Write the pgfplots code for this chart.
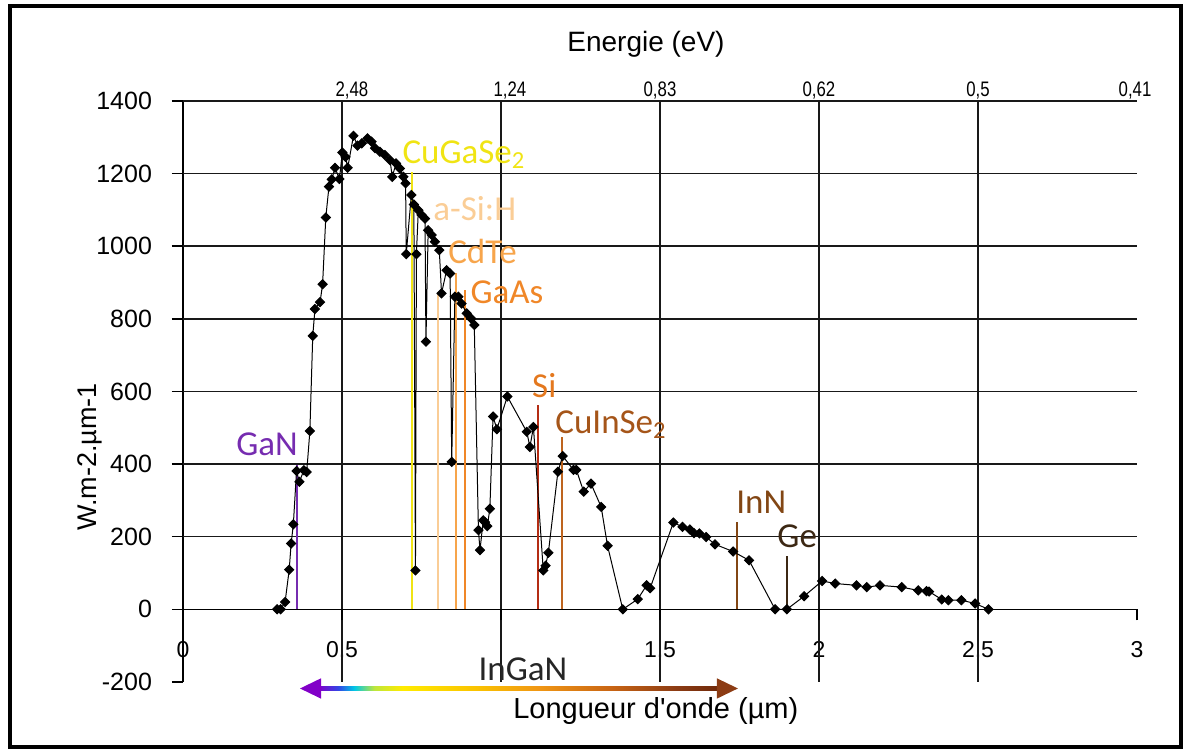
\documentclass[border=0pt]{standalone}
\usepackage{pgfplots}
\pgfplotsset{compat=1.18}
\usepackage{fontspec}
\setmainfont{Liberation Sans}
\newfontfamily\calib{Carlito}
\newfontfamily\narrow{Liberation Sans}[FakeStretch=0.8]

\definecolor{cGaN}{RGB}{118,44,176}
\definecolor{cCGS}{RGB}{240,228,20}
\definecolor{cSiH}{RGB}{250,205,150}
\definecolor{cCdTe}{RGB}{247,165,75}
\definecolor{cGaAs}{RGB}{240,135,40}
\definecolor{cSiL}{RGB}{228,120,30}
\definecolor{cSi}{RGB}{180,45,20}
\definecolor{cCIS}{RGB}{165,85,25}
\definecolor{cCISl}{RGB}{190,100,30}
\definecolor{cInN}{RGB}{130,70,20}
\definecolor{cGe}{RGB}{60,40,20}

\definecolor{g0}{RGB}{130,0,200}
\definecolor{g1}{RGB}{50,70,230}
\definecolor{g2}{RGB}{0,200,230}
\definecolor{g3}{RGB}{190,230,60}
\definecolor{g4}{RGB}{255,235,0}
\definecolor{g5}{RGB}{250,195,0}
\definecolor{g6}{RGB}{240,150,20}
\definecolor{g7}{RGB}{200,100,20}
\definecolor{g8}{RGB}{140,60,20}
\definecolor{g9}{RGB}{110,40,10}
\pgfdeclarehorizontalshading{ingan}{100bp}{color(0bp)=(g0); color(25bp)=(g0);
  color(27.5bp)=(g1); color(29.5bp)=(g2); color(32bp)=(g3); color(35.5bp)=(g4);
  color(44.5bp)=(g5); color(52.5bp)=(g6); color(61.5bp)=(g7); color(69.5bp)=(g8);
  color(75bp)=(g9); color(100bp)=(g9)}

\begin{document}
\begin{tikzpicture}
\begin{axis}[
  scale only axis, width=477pt, height=290.5pt,
  xmin=0, xmax=3, ymin=-200, ymax=1400,
  axis x line*=middle, axis y line*=left,
  axis line style={black, line width=0.7pt},
  xtick={0,0.5,...,3}, xticklabels={0,{0,5},{},{1,5},2,{2,5},3},
  ytick={-200,0,...,1400}, yticklabels={-200,0,200,400,600,800,1000,1200,1400},
  hide obscured x ticks=false, hide obscured y ticks=false,
  tick align=outside, major tick length=5.5pt,
  tick style={black, line width=0.7pt},
  extra x ticks={0.5,1,1.5,2,2.5}, extra x tick labels={},
  extra x tick style={grid=major},
  extra y ticks={200,400,...,1400}, extra y tick labels={},
  extra y tick style={grid=major},
  grid style={black!90, line width=0.8pt},
  x tick label style={font=\fontsize{11.5}{12}\selectfont, yshift=-7pt},
  y tick label style={font=\fontsize{12.5}{13}\selectfont, xshift=-6.5pt},
  clip=false,
]
% bandgap lines
\addplot[cGaN, line width=1pt] coordinates {(0.357,0) (0.357,397)};
\addplot[cCGS, line width=1pt] coordinates {(0.719,0) (0.719,1205)};
\addplot[cSiH, line width=1pt] coordinates {(0.803,0) (0.803,870)};
\addplot[cCdTe, line width=1pt] coordinates {(0.858,0) (0.858,925)};
\addplot[cGaAs, line width=1pt] coordinates {(0.886,0) (0.886,880)};
\addplot[cSi, line width=1pt] coordinates {(1.116,0) (1.116,562)};
\addplot[cCISl, line width=1pt] coordinates {(1.191,0) (1.191,474)};
\addplot[cInN, line width=1pt] coordinates {(1.743,0) (1.743,240)};
\addplot[cGe, line width=1pt] coordinates {(1.900,0) (1.900,146)};

% solar spectrum
\addplot[black, line width=0.5pt, mark=square*, mark size=1.6pt,
  mark options={rotate=45, solid}] coordinates {
(0.296,0) (0.307,0) (0.321,20) (0.334,109) (0.340,181) (0.347,234) (0.357,381)
(0.366,351) (0.380,383) (0.389,378) (0.399,491) (0.408,753) (0.415,827) (0.431,846)
(0.439,895) (0.449,1079) (0.459,1164) (0.468,1184) (0.478,1216) (0.492,1185)
(0.501,1258) (0.511,1246) (0.518,1216) (0.536,1304) (0.549,1277) (0.562,1283)
(0.580,1297) (0.593,1288) (0.604,1270) (0.619,1260) (0.635,1251) (0.651,1237)
(0.658,1191) (0.670,1228) (0.682,1214) (0.693,1191) (0.700,1173) (0.702,978)
(0.718,1141) (0.726,1115) (0.731,107) (0.734,978) (0.740,1099) (0.750,1086)
(0.761,1076) (0.764,737) (0.771,1044) (0.782,1031) (0.792,1012) (0.806,989)
(0.813,870) (0.829,934) (0.840,925) (0.845,406) (0.855,861) (0.866,861)
(0.876,842) (0.892,815) (0.906,801) (0.916,783) (0.929,218) (0.934,163)
(0.944,245) (0.950,240) (0.957,229) (0.965,277) (0.975,531) (0.987,496)
(1.020,586) (1.081,489) (1.091,447) (1.102,502) (1.133,107) (1.140,120)
(1.149,156) (1.179,379) (1.194,422) (1.228,384) (1.237,384) (1.260,324)
(1.283,346) (1.315,282) (1.335,175) (1.383,0) (1.430,28) (1.458,66) (1.469,58)
(1.542,239) (1.571,227) (1.594,220) (1.607,210) (1.624,209) (1.645,199)
(1.673,179) (1.730,159) (1.780,135) (1.862,0) (1.899,0) (1.953,36) (2.010,78)
(2.051,71) (2.118,66) (2.150,61) (2.192,66) (2.260,61) (2.312,52) (2.338,50)
(2.346,49) (2.386,27) (2.407,25) (2.448,25) (2.491,16) (2.533,0)
};

% material labels
\begin{scope}[every node/.style={inner sep=0pt, font=\calib\fontsize{17.5}{18}\selectfont}]
\node[anchor=base east, text=cGaN] at (axis cs:0.362,424) {GaN};
\node[anchor=base west, text=cCGS] at (axis cs:0.689,1229) {CuGaSe\textsubscript{2}};
\node[anchor=base west, text=cSiH] at (axis cs:0.786,1072) {a-Si:H};
\node[anchor=base west, text=cCdTe] at (axis cs:0.833,953) {CdTe};
\node[anchor=base west, text=cGaAs] at (axis cs:0.903,843) {GaAs};
\node[anchor=base west, text=cSiL] at (axis cs:1.097,584) {Si};
\node[anchor=base west, text=cCIS] at (axis cs:1.170,485) {CuInSe\textsubscript{2}};
\node[anchor=base west, text=cInN] at (axis cs:1.739,265) {InN};
\node[anchor=base west, text=cGe] at (axis cs:1.868,171) {Ge};
\node[anchor=base, text=black!85] at (axis cs:1.069,-196) {InGaN};
\end{scope}

% InGaN arrow
\shade[shading=ingan] (axis cs:0.425,-212) rectangle (axis cs:1.690,-224);
\fill[g0] (axis cs:0.368,-218) -- (axis cs:0.434,-190) -- (axis cs:0.434,-246) -- cycle;
\fill[g8] (axis cs:1.745,-218) -- (axis cs:1.679,-190) -- (axis cs:1.679,-246) -- cycle;

% axis titles
\node[anchor=base, font=\fontsize{14.5}{15}\selectfont] at (axis cs:1.487,-300) {Longueur d\textquotesingle onde (µm)};
\node[rotate=90, font=\fontsize{13.5}{14}\selectfont] at (axis cs:-0.292,420) {W.m-2.µm-1};
\node[anchor=base, font=\fontsize{14}{15}\selectfont] at (axis cs:1.456,1535) {Energie (eV)};

% energy scale
\begin{scope}[every node/.style={anchor=base, font=\narrow\fontsize{10.5}{11}\selectfont}]
\node at (axis cs:0.531,1413) {2,48};
\node at (axis cs:1.028,1413) {1,24};
\node at (axis cs:1.500,1413) {0,83};
\node at (axis cs:2.000,1413) {0,62};
\node at (axis cs:2.500,1413) {0,5};
\node at (axis cs:2.994,1413) {0,41};
\end{scope}

% frame and page size
\draw[line width=1.75pt] (axis cs:-0.544,1661.7) rectangle (axis cs:3.138,-378.9);
\path (axis cs:-0.5755,1678) rectangle (axis cs:3.1667,-395.5);
\end{axis}
\end{tikzpicture}
\end{document}
